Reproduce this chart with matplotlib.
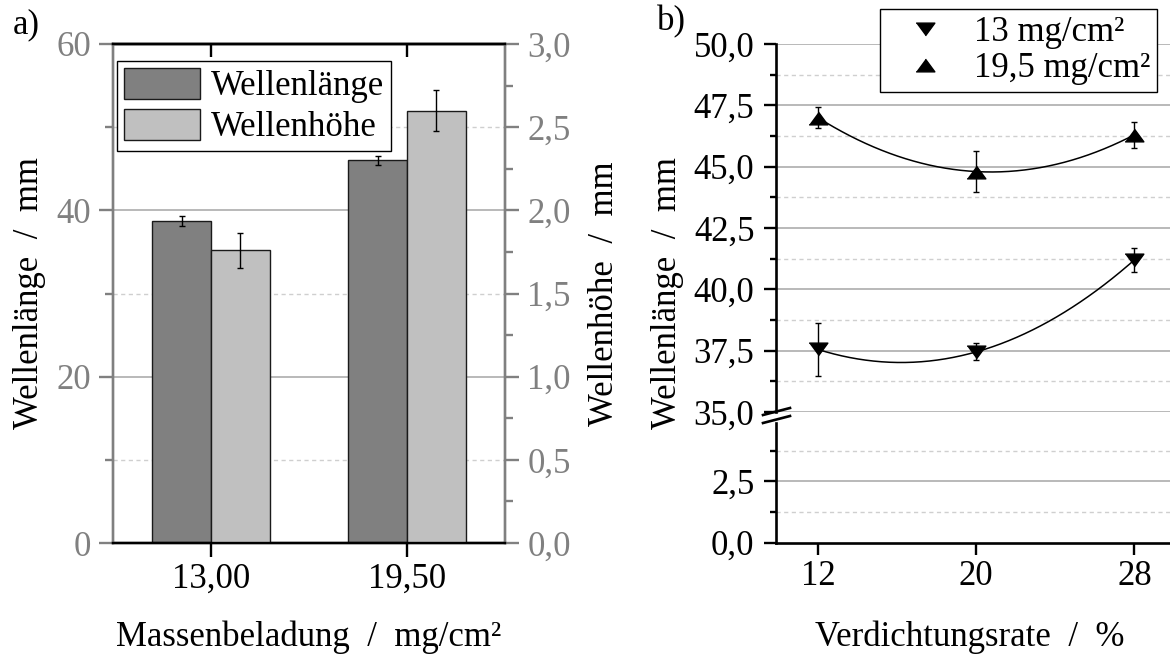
import numpy as np
import matplotlib
matplotlib.use('Agg')
import matplotlib.pyplot as plt
from matplotlib.ticker import FuncFormatter, MultipleLocator
from matplotlib.lines import Line2D

# Daten a) Massenbeladung
kategorien = ['13,00', '19,50']
wellenlaenge = [38.7, 46.0]
wellenlaenge_err = [0.6, 0.5]
wellenhoehe = [1.76, 2.60]
wellenhoehe_err = [0.105, 0.125]

# Daten b) Verdichtungsrate
verdichtung = [12, 20, 28]
wl_13 = [37.55, 37.45, 41.2]
wl_13_err = [1.08, 0.35, 0.5]
wl_195 = [47.0, 44.8, 46.3]
wl_195_err = [0.43, 0.82, 0.53]

plt.rcParams['font.family'] = ['Liberation Serif', 'DejaVu Serif']
plt.rcParams['font.size'] = 25

W, H = 1170, 655
GRAU = '#808080'
GRID_MAJ = dict(color='#a6a6a6', lw=1.1, ls='-', zorder=0.5)
GRID_MIN = dict(color='#cfcfcf', lw=1.0, ls=(0, (3, 2.5)), zorder=0.5)


def rect(x0, y0, x1, y1):
    # Pixelkoordinaten -> Figurkoordinaten
    return [x0 / W, 1 - y1 / H, (x1 - x0) / W, (y1 - y0) / H]


def komma(fmt):
    return FuncFormatter(lambda v, p: (fmt % v).replace('.', ','))


fig = plt.figure(figsize=(W / 100, H / 100), dpi=100)

"""a) Balkendiagramm"""
ax = fig.add_axes(rect(113, 44, 505, 543))
x = np.arange(len(kategorien))
bw = 0.3
err_kw = dict(elinewidth=1, capthick=1, ecolor='black')
b1 = ax.bar(x - bw / 2, wellenlaenge, bw, yerr=wellenlaenge_err, color='#808080',
            edgecolor='#1a1a1a', lw=1, capsize=2.5, error_kw=err_kw,
            label='Wellenlänge', zorder=2)
ax.set_xlim(-0.5, 1.5)
ax.set_ylim(0, 60)
ax.set_yticks([0, 20, 40, 60])
ax.set_yticks([10, 30, 50], minor=True)
ax.set_xticks(x)
ax.set_xticklabels(kategorien)
for v in ax.get_yticks()[1:-1]:
    ax.axhline(v, **GRID_MAJ)
for v in ax.get_yticks(minor=True):
    ax.axhline(v, **GRID_MIN)

ax2 = ax.twinx()
b2 = ax2.bar(x + bw / 2, wellenhoehe, bw, yerr=wellenhoehe_err, color='#c0c0c0',
             edgecolor='#1a1a1a', lw=1, capsize=2.5, error_kw=err_kw,
             label='Wellenhöhe', zorder=2)
ax2.set_ylim(0, 3)
ax2.yaxis.set_major_locator(MultipleLocator(0.5))
ax2.yaxis.set_minor_locator(MultipleLocator(0.25))
ax2.yaxis.set_major_formatter(komma('%.1f'))

for a in (ax, ax2):
    a.spines['left'].set_color(GRAU)
    a.spines['right'].set_color(GRAU)
    a.spines['top'].set_color('black')
    a.spines['bottom'].set_color('black')
    for s in a.spines.values():
        s.set_linewidth(1.7)

ax.tick_params(axis='y', which='major', length=10, width=1.7, color=GRAU,
               labelcolor=GRAU, pad=6)
ax.tick_params(axis='y', which='minor', length=6, width=1.7, color=GRAU)
ax.tick_params(axis='x', which='major', length=10, width=1.7, pad=4)
ax2.tick_params(axis='y', which='major', length=10, width=1.7, color=GRAU,
                labelcolor=GRAU, pad=6)
ax2.tick_params(axis='y', which='minor', length=6, width=1.7, color=GRAU)

oben = ax.secondary_xaxis('top')
oben.set_xticks(x)
oben.tick_params(direction='in', length=9.5, width=1.7, labeltop=False)
oben.spines['top'].set_linewidth(1.7)

ax.set_ylabel('Wellenlänge  /  mm')
ax.yaxis.set_label_coords(-0.171, 0.5)
ax2.set_ylabel('Wellenhöhe  /  mm')
ax2.yaxis.set_label_coords(1.212, 0.5)
fig.text(309 / W, 1 - 646 / H, 'Massenbeladung  /  mg/cm²', ha='center',
         va='baseline')

fig.legend([b1, b2], ['Wellenlänge', 'Wellenhöhe'], loc='upper left',
           bbox_to_anchor=(117 / W, 1 - 61 / H), borderaxespad=0,
           borderpad=0.2, handlelength=2.2, handleheight=1.0,
           handletextpad=0.29, labelspacing=0.15, fancybox=False,
           framealpha=1, edgecolor='black').get_frame().set_linewidth(1)

fig.text(13 / W, 1 - 33 / H, 'a)', va='baseline')

"""b) Verdichtungsrate mit Achsenbruch"""
axu = fig.add_axes(rect(776, 44, 1170, 412))
axl = fig.add_axes(rect(776, 422.6, 1170, 542.5), sharex=axu)

dreieck_oben = [(-1, -0.68), (1, -0.68), (0, 0.68)]
dreieck_unten = [(-1, 0.68), (1, 0.68), (0, -0.68)]

xs = np.linspace(min(verdichtung), max(verdichtung), 200)
for werte, fehler, mk in ((wl_13, wl_13_err, dreieck_unten),
                          (wl_195, wl_195_err, dreieck_oben)):
    coef = np.polyfit(verdichtung, werte, 2)
    axu.plot(xs, np.polyval(coef, xs), color='black', lw=1.1, zorder=3)
    axu.errorbar(verdichtung, werte, yerr=fehler, fmt='none', ecolor='black',
                 elinewidth=1, capsize=2.5, capthick=1, zorder=4)
    axu.plot(verdichtung, werte, ls='none', marker=mk, ms=13.5,
             color='black', zorder=5)

axu.set_xlim(9.88, 29.8)
axu.set_ylim(35, 50)
axu.yaxis.set_major_locator(MultipleLocator(2.5))
axu.yaxis.set_minor_locator(MultipleLocator(1.25))
axu.yaxis.set_major_formatter(komma('%.1f'))
for v in axu.get_yticks()[:-1]:
    axu.axhline(v, **GRID_MAJ)
for v in axu.get_yticks(minor=True):
    if 35 < v < 50:
        axu.axhline(v, **GRID_MIN)

axl.set_ylim(0, 4.9)
axl.set_yticks([0, 2.5])
axl.set_yticks([1.25, 3.75], minor=True)
axl.yaxis.set_major_formatter(komma('%.1f'))
axl.set_xticks(verdichtung)
for v in axl.get_yticks()[1:]:
    axl.axhline(v, **GRID_MAJ)
for v in axl.get_yticks(minor=True):
    axl.axhline(v, **GRID_MIN)

for a in (axu, axl):
    a.spines['top'].set_visible(False)
    a.spines['right'].set_visible(False)
    a.spines['left'].set_linewidth(1.9)
    a.spines['bottom'].set_linewidth(1.9)
    a.tick_params(axis='y', which='major', length=8.5, width=1.7, pad=7)
    a.tick_params(axis='y', which='minor', length=4, width=1.7)
axu.spines['bottom'].set_visible(False)
axu.tick_params(axis='x', bottom=False, labelbottom=False)
axl.tick_params(axis='x', which='major', length=8.5, width=1.7, pad=4)

# Bruchzeichen an der y-Achse
for y0 in (415, 423):
    fig.add_artist(Line2D([763 / W, 790 / W], [1 - y0 / H, 1 - (y0 - 7) / H],
                          color='black', lw=1.9, transform=fig.transFigure))

fig.text(667 / W, 1 - 293 / H, 'Wellenlänge  /  mm', rotation=90,
         ha='center', va='center')
fig.text(970 / W, 1 - 646 / H, 'Verdichtungsrate  /  %', ha='center',
         va='baseline')
fig.text(657 / W, 1 - 30 / H, 'b)', va='baseline')

handles = [Line2D([], [], ls='none', marker=dreieck_unten, ms=13.5, color='black'),
           Line2D([], [], ls='none', marker=dreieck_oben, ms=13.5, color='black')]
leg = fig.legend(handles, ['13 mg/cm²', '19,5 mg/cm²'], loc='upper right',
                 bbox_to_anchor=(1157 / W, 1 - 9 / H), borderaxespad=0,
                 borderpad=0.2, handlelength=2.2, handletextpad=0.3,
                 labelspacing=0.1, fancybox=False, framealpha=1,
                 edgecolor='black')
leg.get_frame().set_linewidth(1)

fig.savefig('out.png', dpi=100)
